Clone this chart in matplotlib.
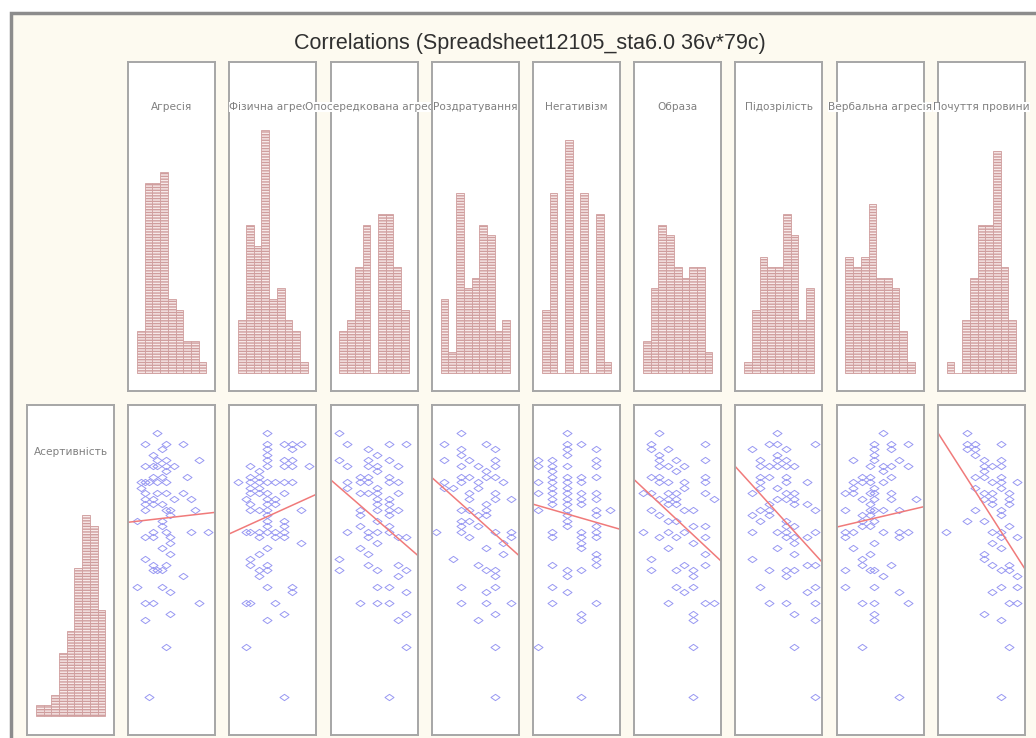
import numpy as np
import matplotlib.pyplot as plt
from matplotlib.path import Path
from matplotlib.patches import Rectangle

plt.rcParams['font.family'] = ['Liberation Sans', 'DejaVu Sans']

W, H = 1036, 738

title = 'Correlations (Spreadsheet12105_sta6.0 36v*79c)'
row_name = 'Асертивність'
col_names = ['Агресія', 'Фізична агресія', 'Опосередкована агресія', 'Роздратування',
             'Негативізм', 'Образа', 'Підозрілість', 'Вербальна агресія', 'Почуття провини']

# histogram counts, 9 bins per variable
aser_hist = [1, 1, 2, 6, 8, 14, 19, 18, 10]
agr_hist = [4, 18, 18, 19, 7, 6, 3, 3, 1]
fiz_hist = [5, 14, 12, 23, 7, 8, 5, 4, 1]
opos_hist = [4, 5, 10, 14, 0, 15, 15, 10, 6]
rozd_hist = [7, 2, 17, 8, 9, 14, 13, 4, 5]
neg_hist = [6, 17, 0, 22, 0, 17, 0, 15, 1]
obr_hist = [3, 8, 14, 13, 10, 9, 10, 10, 2]
pid_hist = [1, 6, 11, 10, 10, 15, 13, 5, 8]
verb_hist = [11, 10, 11, 16, 9, 9, 8, 4, 1]
poch_hist = [1, 0, 5, 9, 14, 14, 21, 10, 5]

# scatter points: Асертивність score -> scores of the column variable
agr_pts = {48: [7], 46: [4, 9, 13], 45: [8], 44: [6], 43: [7, 9, 17], 42: [4, 6, 7, 9, 11], 41: [9],
           40: [6, 8, 14], 39: [3, 4, 5, 7, 9], 38: [3], 37: [4, 7, 9, 13], 36: [4, 6, 11, 15],
           35: [4, 6, 8], 34: [4, 9, 10, 16], 33: [10], 32: [2, 8], 31: [8], 30: [6, 9, 15, 19],
           29: [4, 6, 10], 28: [10], 27: [8], 26: [10], 25: [4], 24: [6, 9], 23: [6, 7, 8], 22: [13],
           20: [2, 8], 19: [10], 17: [4, 6, 17], 15: [10], 14: [4], 9: [9], 0: [5]}
fiz_pts = {48: [9], 46: [9, 13, 15, 17], 45: [9, 15], 44: [9], 43: [9, 13, 15], 42: [5, 9, 13, 15, 19],
           41: [7], 40: [5, 7], 39: [2, 5, 7, 9, 11, 13, 15], 38: [5, 7], 37: [5, 7, 9, 13],
           36: [4, 9, 11], 35: [5, 9, 11], 34: [5, 7, 9, 17], 33: [9], 32: [9, 13], 31: [9, 13],
           30: [4, 5, 7, 9, 11, 13], 29: [7, 11, 13], 28: [17], 27: [9], 26: [7], 25: [5], 24: [5, 9],
           23: [7, 9], 22: [7], 20: [9, 15], 19: [15], 17: [4, 5, 11], 15: [13], 14: [9], 9: [4], 0: [13]}
opos_pts = {48: [2], 46: [4, 14, 18], 45: [9], 44: [11], 43: [2, 9, 14], 42: [4, 9, 11, 16], 41: [11],
            40: [7, 9, 14], 39: [4, 7, 9, 14, 16], 38: [4, 11], 37: [7, 9, 11, 16], 36: [11, 14],
            35: [11, 14], 34: [7, 11, 14, 16], 33: [7, 14], 32: [11], 31: [7, 14], 30: [4, 9, 11, 14],
            29: [9, 16, 18], 28: [11], 27: [7], 26: [9], 25: [2], 24: [9, 16], 23: [2, 11, 18], 22: [16],
            20: [11, 14], 19: [18], 17: [7, 11, 14], 15: [18], 14: [16], 9: [18], 0: [14]}
rozd_pts = {48: [7], 46: [3, 13], 45: [7, 15], 44: [7], 43: [3, 9, 15], 42: [7, 11, 15], 41: [13],
            40: [7, 9, 13, 15], 39: [3, 7, 11, 17], 38: [3, 5, 11], 37: [9, 15], 36: [9, 15, 19],
            35: [13], 34: [7, 9, 13], 33: [11, 13], 32: [7, 9], 31: [7, 11], 30: [1, 7, 15, 19],
            29: [9, 19], 28: [17], 27: [13], 26: [17], 25: [5], 24: [11], 23: [13, 15], 22: [15],
            20: [7, 15], 19: [13], 17: [7, 13, 19], 15: [15], 14: [11], 9: [15], 0: [15]}
neg_pts = {48: [7], 46: [7, 10], 45: [7, 13], 44: [7], 43: [1, 4, 13], 42: [1, 4, 7, 13], 41: [4],
           40: [4, 7, 10, 13], 39: [1, 4, 7, 10], 38: [4, 7], 37: [1, 4, 7, 10, 13], 36: [4, 7, 10, 13],
           35: [4, 7, 10], 34: [1, 7, 13, 16], 33: [7, 13], 32: [7], 31: [7, 13], 30: [4, 10, 13],
           29: [4, 10, 13], 28: [10], 27: [10], 26: [13], 25: [13], 24: [4, 13], 23: [7, 10], 22: [7],
           20: [4], 19: [7], 17: [4, 13], 15: [10], 14: [10], 9: [1], 0: [10]}
obr_pts = {48: [6], 46: [4, 17], 45: [4, 8], 44: [6], 43: [6, 10, 17], 42: [6, 8, 12], 41: [10],
           40: [4, 6, 17], 39: [6, 8, 12, 17], 38: [12], 37: [2, 4, 8, 10, 17], 36: [6, 8, 10, 19],
           35: [8, 10], 34: [4, 12, 14], 33: [6], 32: [8, 10], 31: [14, 17], 30: [2, 8, 12],
           29: [6, 10, 17], 28: [14], 27: [8], 26: [17], 25: [4], 24: [12, 17], 23: [4, 10, 14], 22: [14],
           20: [10, 14], 19: [12], 17: [8, 17, 19], 15: [14], 14: [14], 9: [14], 0: [14]}
pid_pts = {48: [10], 46: [8, 10, 19], 45: [4, 12], 44: [10], 43: [6, 10, 12], 42: [6, 8, 10, 12, 14],
           40: [6, 8, 12], 39: [6, 12, 17], 38: [6, 10], 37: [4, 12, 14], 36: [10, 12, 14], 35: [8, 14, 17],
           34: [6, 8, 19], 33: [4, 8], 32: [6, 12], 31: [12, 14], 30: [4, 10, 12, 19], 29: [12, 14, 17],
           28: [14], 27: [10], 26: [14], 25: [4], 24: [17, 19], 23: [8, 12, 14], 22: [12], 20: [6, 19],
           19: [17], 17: [8, 12, 19], 15: [14], 14: [19], 9: [14], 0: [19]}
verb_pts = {48: [11], 46: [9, 13, 17], 45: [9, 13], 44: [9], 43: [4, 9, 15], 42: [8, 11, 13, 17], 41: [11],
            40: [6, 8, 13], 39: [4, 6, 8, 11], 38: [4, 9], 37: [2, 4, 8, 9, 13], 36: [6, 9, 13, 19], 35: [8],
            34: [2, 8, 9, 11, 15], 33: [6, 8], 32: [6, 9], 31: [6, 8], 30: [2, 4, 11, 15, 17], 29: [2, 15],
            28: [9], 27: [4], 26: [8], 25: [6], 24: [6, 13], 23: [2, 8, 9], 22: [11], 20: [2, 9], 19: [15],
            17: [6, 9, 17], 15: [9], 14: [9], 9: [6], 0: [15]}
poch_pts = {48: [7], 46: [7, 9, 15], 45: [7, 9], 44: [9], 43: [11, 15], 42: [11, 13, 15], 41: [11],
            40: [9, 11, 15], 39: [13, 15, 19], 38: [9, 15], 37: [11, 13, 17], 36: [11, 13, 17], 35: [13, 17],
            34: [9, 15], 33: [15], 32: [7, 11], 31: [17], 30: [2, 13, 15], 29: [15, 19], 28: [13], 27: [15],
            26: [11], 25: [11], 24: [13, 17], 23: [15, 17], 22: [19], 20: [15, 19], 19: [13], 17: [17, 19],
            15: [11], 14: [15], 9: [17], 0: [15]}

col_hists = [agr_hist, fiz_hist, opos_hist, rozd_hist, neg_hist, obr_hist, pid_hist, verb_hist, poch_hist]
col_pts = [agr_pts, fiz_pts, opos_pts, rozd_pts, neg_pts, obr_pts, pid_pts, verb_pts, poch_pts]
col_xmax = [20.8, 20.8, 20.8, 20.8, 18.0, 20.8, 20.8, 20.8, 20.8]


def box(x, y, w, h):
    # pixel box (top-left origin) -> figure fraction
    return [x / W, 1 - (y + h) / H, w / W, h / H]


def style(ax):
    ax.set_xticks([])
    ax.set_yticks([])
    ax.set_facecolor('white')
    for s in ax.spines.values():
        s.set_color('#a6a6a6')
        s.set_linewidth(1.4)


def label(ax, text, y):
    ax.text(0.5, y, text, transform=ax.transAxes, ha='center', va='center',
            fontsize=7.6, color='#808080', family=['DejaVu Sans'], clip_on=False,
            bbox=dict(facecolor='white', edgecolor='none', pad=0))


def hist(ax, counts, below):
    idx = np.arange(len(counts))
    ax.bar(idx, counts, width=1.0, color='#f8eaea', edgecolor='#cf9d9d',
           hatch='------', linewidth=0.6)
    ax.set_xlim(-1.65, 9.63)
    ax.set_ylim(-below, 29.4)


diamond = Path([(-1, 0), (0, 0.7), (1, 0), (0, -0.7), (-1, 0)],
               [Path.MOVETO, Path.LINETO, Path.LINETO, Path.LINETO, Path.CLOSEPOLY])

fig = plt.figure(figsize=(W / 100, H / 100), dpi=100)
fig.patch.set_facecolor('white')
# window frame behind the panels
fig.add_artist(Rectangle((11 / W, -0.05), 1.1, 1 - 13 / H + 0.05, transform=fig.transFigure,
                         facecolor='#fdfaf0', edgecolor='#8c8c8c', linewidth=2.5, zorder=-10))
fig.text(530 / W, 1 - 43 / H, title, ha='center', va='center', fontsize=15.5, color='#303030')

step = 101.2
pw = 87

# left column: Асертивність histogram
ax = fig.add_axes(box(27, 405, pw, 330))
style(ax)
hist(ax, aser_hist, 1.8)
label(ax, row_name, 0.858)

for i in range(9):
    x0 = 27 + (i + 1) * step

    # top row: histogram of the column variable
    ax = fig.add_axes(box(x0, 62, pw, 329))
    style(ax)
    hist(ax, col_hists[i], 1.7)
    label(ax, col_names[i], 0.863)

for i in range(9):
    x0 = 27 + (i + 1) * step

    # bottom row: scatter against Асертивність with the fitted line
    ax = fig.add_axes(box(x0, 405, pw, 330))
    style(ax)
    pts = col_pts[i]
    xs = np.array([x for yv in pts for x in pts[yv]], dtype=float)
    ys = np.array([yv for yv in pts for x in pts[yv]], dtype=float)
    ax.plot(xs, ys, linestyle='none', marker=diamond, ms=6.5, mfc='none',
            mec='#9898f2', mew=0.7)
    k, b = np.polyfit(xs, ys, 1)
    lx = np.array([0, col_xmax[i]])
    ax.plot(lx, k * lx + b, color='#f07a7a', linewidth=1.1)
    ax.set_xlim(0, col_xmax[i])
    ax.set_ylim(-6.97, 53.04)

fig.savefig('out.png', dpi=100, facecolor=fig.get_facecolor())
